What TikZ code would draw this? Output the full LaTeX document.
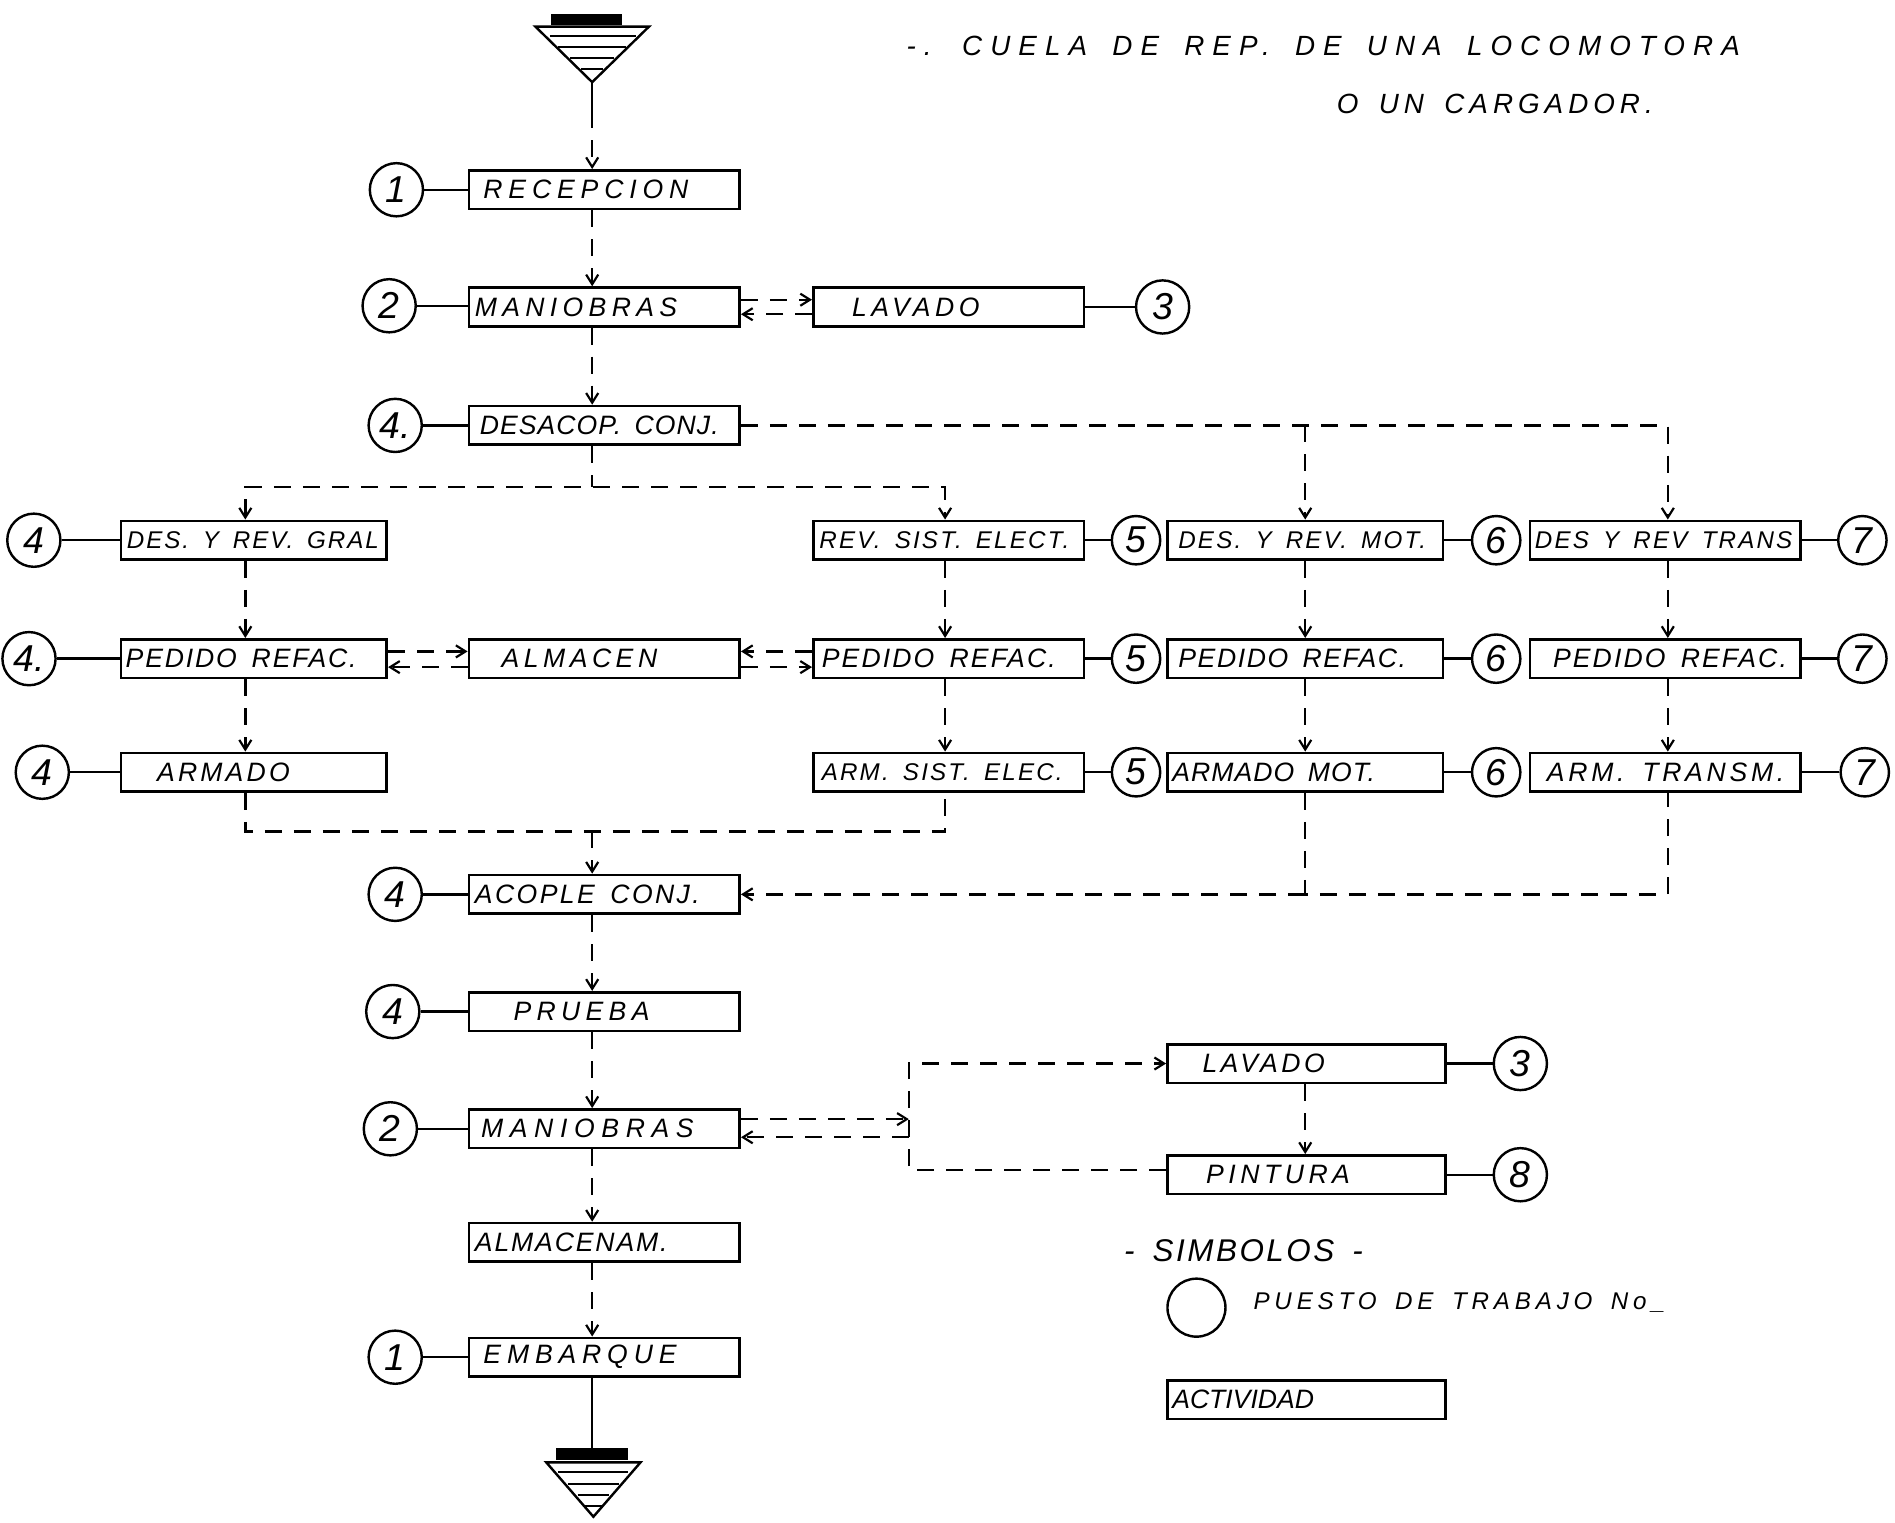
\documentclass[tikz,border=0pt]{standalone}
\usepackage{fontspec}
\setmainfont{Liberation Sans}
\newfontfamily\handfont{Liberation Sans}[WordSpace=1.6]
\usetikzlibrary{arrows.meta}

% #1 size, #2 target width, #3 glyph count, #4 text
\newcommand\lab[4][22]{%
  \handfont\fontsize{#1}{#1}\selectfont\itshape
  \setbox0\hbox{#4}%
  \pgfmathtruncatemacro\lsv{max(0,((#2)-\the\wd0)/(#3)/(#1)*100)}%
  \addfontfeatures{LetterSpace=\lsv}#4}
% [size] box width, left offset, target width, glyph count, text
\newcommand\bxt[6][22]{\makebox[#2pt][l]{\hspace*{#3pt}\lab[#1]{#4}{#5}{#6}}}

\tikzset{
  flowline/.style={line width=2pt, dash pattern=on 14pt off 10pt},
  flow/.style={flowline, -{Straight Barb[length=8pt,width=10pt,line width=1.8pt]}},
  solidcon/.style={line width=2pt},
  box/.style={draw, line width=2.2pt, rectangle, inner sep=0pt, minimum height=32pt},
  stn/.style={draw, circle, line width=2pt, minimum size=44pt, inner sep=0pt,
    font=\fontsize{31}{31}\selectfont\itshape},
  stns/.style={stn, minimum size=40pt},
  txt/.style={inner sep=0pt, anchor=west},
}

\begin{document}
\begin{tikzpicture}[x=1pt,y=-1pt]
\fill[white] (0,0) rectangle (1568,1260);
\useasboundingbox (0,0) rectangle (1568,1260);

% column lines
\coordinate (cA) at (490,0);
\coordinate (cL) at (203,0);
\coordinate (cE) at (782,0);
\coordinate (cM) at (1080,0);
\coordinate (cT) at (1380,0);
\coordinate (jx) at (752,0);

% title
\node[txt] (title1) at (750,38) {\lab[23]{675}{28}{-. CUELA DE REP. DE UNA LOCOMOTORA}};
\node[txt] (title2) at (1106,86) {\lab[23]{262}{12}{O UN CARGADOR.}};

% top triangle (entry)
\fill (456,12) rectangle (515,21);
\draw[line width=2pt] (443,22) -- (537,22) -- (490,68) -- cycle;
\draw[line width=1.8pt] (455,30) -- (526,30) (462,39) -- (518,39) (472,48) -- (508,48) (481,57) -- (499,57);
\coordinate (tri1) at (490,68);

% main column boxes
\node[box] (rec)  at (500,157) {\bxt{224}{12}{175}{9}{RECEPCION}};
\node[box] (man1) at (500,254) {\bxt{224}{5}{172}{9}{MANIOBRAS}};
\node[box] (lav1) at (785,254) {\bxt{224}{32}{110}{6}{LAVADO}};
\node[box] (des)  at (500,352) {\bxt{224}{9}{200}{13}{DESACOP. CONJ.}};

\node[box] (gral) at (210,447) {\bxt[20]{220}{5}{208}{13}{DES. Y REV. GRAL}};
\node[box] (rse)  at (785,447) {\bxt[20]{224}{5}{208}{15}{REV. SIST. ELECT.}};
\node[box] (drm)  at (1080,447) {\bxt[20]{228}{9}{205}{13}{DES. Y REV. MOT.}};
\node[box] (drt)  at (1378,447) {\bxt[20]{224}{4}{212}{12}{DES Y REV TRANS}};

\node[box] (ped1) at (210,545) {\bxt{220}{4}{194}{12}{PEDIDO REFAC.}};
\node[box] (alm)  at (500,545) {\bxt{224}{27}{133}{7}{ALMACEN}};
\node[box] (ped2) at (785,545) {\bxt{224}{7}{195}{12}{PEDIDO REFAC.}};
\node[box] (ped3) at (1080,545) {\bxt{228}{9}{190}{12}{PEDIDO REFAC.}};
\node[box] (ped4) at (1378,545) {\bxt{224}{19}{195}{12}{PEDIDO REFAC.}};

\node[box] (arm1) at (210,639) {\bxt{220}{30}{113}{6}{ARMADO}};
\node[box] (arm2) at (785,639) {\bxt[20]{224}{7}{200}{14}{ARM. SIST. ELEC.}};
\node[box] (arm3) at (1080,639) {\bxt{228}{4}{170}{10}{ARMADO MOT.}};
\node[box] (arm4) at (1378,639) {\bxt{224}{14}{198}{11}{ARM. TRANSM.}};

\node[box] (aco)  at (500,740) {\bxt{224}{5}{189}{11}{ACOPLE CONJ.}};
\node[box] (pru)  at (500,837) {\bxt{224}{37}{118}{6}{PRUEBA}};
\node[box] (man2) at (500,934) {\bxt{224}{10}{182}{9}{MANIOBRAS}};
\node[box] (alm2) at (500,1028) {\bxt{224}{5}{162}{10}{ALMACENAM.}};
\node[box] (emb)  at (500,1123) {\bxt{224}{12}{165}{8}{EMBARQUE}};

\node[box] (lav2) at (1081,880) {\bxt{230}{29}{105}{6}{LAVADO}};
\node[box] (pin)  at (1081,972) {\bxt{230}{32}{124}{7}{PINTURA}};

% bottom triangle (exit)
\fill (460,1198) rectangle (520,1208);
\draw[line width=2pt] (452,1210) -- (530,1210) -- (491,1255) -- cycle;
\draw[line width=1.8pt] (462,1218) -- (520,1218) (470,1228) -- (512,1228) (478,1237) -- (504,1237) (484,1246) -- (498,1246);
\coordinate (tri2) at (490,1198);

% station circles
\node[stn] (k1a) at (328,157) {1};
\node[stn] (k2a) at (322,253) {2};
\node[stn] (k3a) at (962,254) {3};
\node[stn] (k4a) at (327,352) {4.};
\node[stn] (k4b) at (28,447) {4};
\node[stns] (k5a) at (940,447) {5};
\node[stns] (k6a) at (1238,447) {6};
\node[stns] (k7a) at (1541,447) {7};
\node[stn] (k4c) at (24,545) {4.};
\node[stns] (k5b) at (940,545) {5};
\node[stns] (k6b) at (1238,545) {6};
\node[stns] (k7b) at (1541,545) {7};
\node[stn] (k4d) at (35,639) {4};
\node[stns] (k5c) at (940,639) {5};
\node[stns] (k6c) at (1238,639) {6};
\node[stns] (k7c) at (1543,639) {7};
\node[stn] (k4e) at (327,740) {4};
\node[stn] (k4f) at (325,837) {4};
\node[stn] (k2b) at (323,934) {2};
\node[stn] (k1b) at (327,1123) {1};
\node[stn] (k3b) at (1258,880) {3};
\node[stn] (k8)  at (1258,972) {8};

% circle-to-box links
\foreach \k/\b in {k1a/rec,k2a/man1,k4a/des,k4b/gral,k4c/ped1,k4d/arm1,k4e/aco,k4f/pru,k2b/man2,k1b/emb}
  \draw[solidcon] (\k.east) -- (\k.east -| \b.west);
\foreach \b/\k in {lav1/k3a,rse/k5a,drm/k6a,drt/k7a,ped2/k5b,ped3/k6b,ped4/k7b,arm2/k5c,arm3/k6c,arm4/k7c,lav2/k3b,pin/k8}
  \draw[solidcon] (\b.east) -- (\b.east -| \k.west);

% flow connectors
\draw[line width=2pt] (tri1) -- (490,92);
\draw[flow] (490,92) -- (rec.north -| cA);
\draw[flow] (rec.south -| cA) -- (man1.north -| cA);
\draw[flow] ([yshift=6pt]man1.east) -- ([yshift=6pt]lav1.west);
\draw[flow] ([yshift=-6pt]lav1.west) -- ([yshift=-6pt]man1.east);
\draw[flow] (man1.south -| cA) -- (des.north -| cA);

\coordinate (hy) at (490,403);
\draw[flowline] (des.south -| cA) -- (hy);
\draw[flowline, {Straight Barb[length=8pt,width=10pt,line width=1.8pt]}-{Straight Barb[length=8pt,width=10pt,line width=1.8pt]}]
  (gral.north -| cL) |- (hy) -| (rse.north -| cE);
\draw[flow] (des.east) -| (drt.north -| cT);
\draw[flow] (des.east -| cM) -- (drm.north -| cM);

\draw[flow] (gral.south -| cL) -- (ped1.north -| cL);
\draw[flow] (ped1.south -| cL) -- (arm1.north -| cL);
\draw[flow] (rse.south -| cE) -- (ped2.north -| cE);
\draw[flow] (ped2.south -| cE) -- (arm2.north -| cE);
\draw[flow] (drm.south -| cM) -- (ped3.north -| cM);
\draw[flow] (ped3.south -| cM) -- (arm3.north -| cM);
\draw[flow] (drt.south -| cT) -- (ped4.north -| cT);
\draw[flow] (ped4.south -| cT) -- (arm4.north -| cT);

\draw[flow] ([yshift=6pt]ped1.east) -- ([yshift=6pt]alm.west);
\draw[flow] ([yshift=-7pt]alm.west) -- ([yshift=-7pt]ped1.east);
\draw[flow] ([yshift=6pt]ped2.west) -- ([yshift=6pt]alm.east);
\draw[flow] ([yshift=-7pt]alm.east) -- ([yshift=-7pt]ped2.west);

\coordinate (hy2) at (490,688);
\draw[flowline] (arm1.south -| cL) |- (hy2) -| (arm2.south -| cE);
\draw[flow] (hy2) -- (aco.north -| cA);
\coordinate (hy3) at (1080,740);
\draw[flowline] (arm3.south -| cM) -- (hy3) -| (arm4.south -| cT);
\draw[flow] (hy3) -- (aco.east);

\draw[flow] (aco.south -| cA) -- (pru.north -| cA);
\draw[flow] (pru.south -| cA) -- (man2.north -| cA);
\draw[flow] ([yshift=8pt]man2.east) -- ([yshift=8pt]man2.east -| jx);
\draw[flow] ([yshift=-7pt]man2.east -| jx) -- ([yshift=-7pt]man2.east);
\draw[flow] ([yshift=4pt]pin.west) -| (lav2.west -| jx) -- (lav2.west);
\draw[flow] (lav2.south -| cM) -- (pin.north -| cM);
\draw[flow] (man2.south -| cA) -- (alm2.north -| cA);
\draw[flow] (alm2.south -| cA) -- (emb.north -| cA);
\draw[line width=2pt] (emb.south -| cA) -- (tri2);

% legend
\node[txt] (simb) at (930,1035) {\lab[26]{198}{10}{- SIMBOLOS -}};
\node[stn, minimum size=48pt] (kleg) at (990,1082) {};
\node[txt] (puesto) at (1037,1078) {\lab[20]{340}{18}{PUESTO DE TRABAJO No\_}};
\node[box] (act) at (1081,1158) {\bxt{230}{4}{108}{9}{ACTIVIDAD}};
\end{tikzpicture}
\end{document}
